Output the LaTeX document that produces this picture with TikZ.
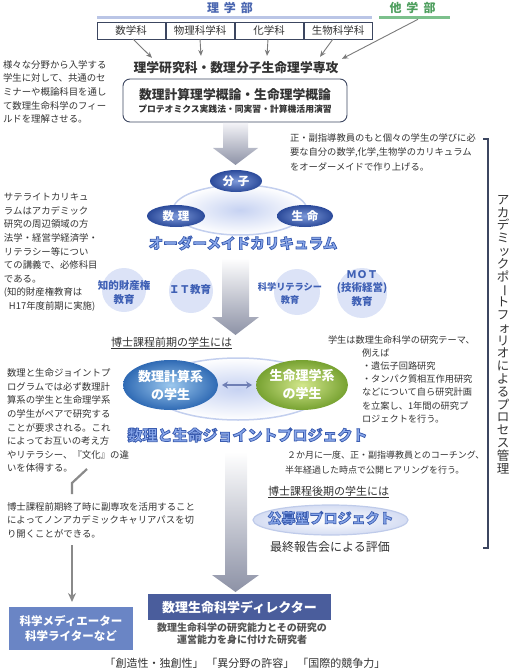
\documentclass[tikz,border=0pt]{standalone}
\usepackage{fontspec}
\setmainfont{Noto Sans CJK JP}
\newfontfamily\fancyfont{Noto Sans CJK JP}[BoldFeatures={FakeBold=5}]
\usetikzlibrary{arrows.meta,shapes.geometric}
\definecolor{txt}{HTML}{333333}
\definecolor{navy}{HTML}{3C4660}
\definecolor{rigaku}{HTML}{4A66B0}
\definecolor{tagaku}{HTML}{4F9F5F}
\definecolor{barblue}{HTML}{BAC5E6}
\definecolor{bargreen}{HTML}{7CC08C}
\definecolor{arrgray}{HTML}{7A7A7A}
\definecolor{pilldark}{HTML}{2B4A9A}
\definecolor{pilllight}{HTML}{7D99D9}
\definecolor{ringc}{HTML}{C3CFEE}
\definecolor{ringin}{HTML}{C6D2F2}
\definecolor{circfill}{HTML}{DCE3F7}
\definecolor{circtxt}{HTML}{3F60B5}
\definecolor{flight}{HTML}{8AA8EA}
\definecolor{stuA}{HTML}{2F6AB4}
\definecolor{stuAl}{HTML}{9CC8EE}
\definecolor{stuB}{HTML}{77A231}
\definecolor{stuBl}{HTML}{D3E78C}
\definecolor{dirc}{HTML}{4A5D9C}
\definecolor{medc}{HTML}{6A85C5}
\definecolor{bigA}{HTML}{F3F3F7}
\definecolor{bigB}{HTML}{8D92A6}
\definecolor{dbl}{HTML}{6F7FB5}
\definecolor{koubofill}{HTML}{D5DDF3}
\definecolor{kouboline}{HTML}{BFCBEA}
\definecolor{subtxt}{HTML}{555555}
\definecolor{linkgray}{HTML}{8A8A8A}

% one node per decorated title: light fill, darker outline stroke
\newcommand\fancytxt[5]{%
  \node[text=flight,font=\fontsize{#4}{#4}\selectfont\fancyfont\bfseries] (#1) at (#2,#3) {\special{pdf:literal direct 0.227 0.361 0.690 RG}#5};}
% small kana in vertical setting: shifted right
\newcommand\vsmall[1]{\hspace*{2.5pt}#1\hspace*{-2.5pt}}

\begin{document}
\begin{tikzpicture}[x=1pt,y=-1pt]
\tikzset{
 every node/.style={inner sep=0pt, outer sep=0pt, text=txt},
 para/.style={anchor=north west, align=left, font=\fontsize{9.4}{13.6}\selectfont},
 dept/.style={draw=navy, line width=0.9pt, fill=white, minimum width=68pt, minimum height=17pt, font=\fontsize{10.5}{12}\selectfont},
 garr/.style={draw=arrgray, line width=0.9pt, -{Stealth[length=6pt,width=5pt]}},
 pill/.style={ellipse, inner color=pilllight, outer color=pilldark, text=white, font=\fontsize{11.5}{12}\selectfont\bfseries},
 ring/.style={ellipse, draw=ringc, line width=1.5pt, inner color=ringin, outer color=white},
 topic/.style={circle, fill=circfill, minimum size=44pt},
 topictxt/.style={align=center, text=circtxt, font=\fontsize{10.5}{13.2}\selectfont\bfseries},
 bigarrow/.style={top color=bigA, bottom color=bigB},
}
\useasboundingbox (0,0) rectangle (514,671);

% header
\node[text=rigaku, font=\fontsize{12}{12}\selectfont\bfseries] (rigakubu) at (230,8) {理\hspace{5pt}学\hspace{5pt}部};
\node[fill=barblue, minimum width=275pt, minimum height=3.6pt] (rbar) at (234.5,17.5) {};
\node[text=tagaku, font=\fontsize{12}{12}\selectfont\bfseries] (tagakubu) at (412.5,8) {他\hspace{5pt}学\hspace{5pt}部};
\node[fill=bargreen, minimum width=71pt, minimum height=3.6pt] (gbar) at (414.5,17.5) {};

\node[dept] (d1) at (131,30.5) {数学科};
\node[dept] (d2) at (200,30.5) {物理科学科};
\node[dept] (d3) at (269,30.5) {化学科};
\node[dept] (d4) at (338,30.5) {生物科学科};

\node[font=\fontsize{12.8}{14}\selectfont\bfseries] (ttl) at (236,68) {理学研究科・数理分子生命理学専攻};

\draw[garr] ([xshift=2pt]d1.south) -- ([xshift=-84pt,yshift=4pt]ttl.north);
\draw[garr] (d2.south) -- ([xshift=-35pt,yshift=6pt]ttl.north);
\draw[garr] ([xshift=-1pt]d3.south) -- ([xshift=31pt,yshift=6pt]ttl.north);
\draw[garr] ([xshift=-5pt]d4.south) -- ([xshift=84pt,yshift=5pt]ttl.north);
\draw[garr] ([xshift=3.5pt]gbar.south) -- ([xshift=106pt,yshift=3pt]ttl.north);

\node[draw=navy, line width=0.9pt, rounded corners=7pt, minimum width=224pt, minimum height=43pt] (cbox) at (235,100.5) {};
\node[font=\fontsize{12.8}{14}\selectfont\bfseries] (c1) at (235,95) {数理計算理学概論・生命理学概論};
\node[font=\fontsize{8.8}{10}\selectfont\bfseries] (c2) at (235,109.5) {プロテオミクス実践法・同実習・計算機活用演習};

\node[para] (p1) at (3,60.3) {様々な分野から入学する\\学生に対して、共通のセ\\ミナーや概論科目を通し\\て数理生命科学のフィー\\ルドを理解させる。};

% arrow 1
\shade[bigarrow] (223,123) -- (248,123) -- (248,148) -- (258,148) -- (235.5,165) -- (213,148) -- (223,148) -- cycle;

\node[para, font=\fontsize{9.3}{14.5}\selectfont] (p2) at (290,133.4) {正・副指導教員のもと個々の学生の学びに必\\要な自分の数学,化学,生物学のカリキュラム\\をオーダーメイドで作り上げる。};

% bracket and vertical label
\draw[navy, line width=1.1pt] (483,139) -- (488,139) -- (488,548) -- (483,548);
\node[align=center, font=\fontsize{12.5}{12.8}\selectfont] (vt) at (503,334.5) {ア\\カ\\デ\\ミ\\\vsmall{ッ}\\ク\\ポ\\\smash{\rotatebox[origin=c]{-90}{ー}}\\ト\\フ\\\vsmall{ォ}\\リ\\オ\\に\\よ\\る\\プ\\ロ\\セ\\ス\\管\\理};

% curriculum ring
\node[ring, minimum width=134pt, minimum height=50pt] (ring1) at (240,210) {};
\node[pill, minimum width=52pt, minimum height=22pt] (bunshi) at (236,181) {分\hspace{4pt}子};
\node[pill, minimum width=58pt, minimum height=22pt] (suuripill) at (176,216) {数\hspace{4pt}理};
\node[pill, minimum width=56pt, minimum height=22pt] (seimeipill) at (305,216) {生\hspace{4pt}命};
\fancytxt{order}{243}{243}{14.6}{オーダーメイドカリキュラム}

\node[para] (p3) at (4,193.3) {サテライトカリキュ\\ラムはアカデミック\\研究の周辺領域の方\\法学・経営学経済学・\\リテラシー等につい\\ての講義で、必修科目\\である。\\(知的財産権教育は\\\hspace*{5pt}H17年度前期に実施)};

\node[topic] (tc1) at (124,290) {};
\node[topictxt] (tt1) at (124,292.5) {知的財産権\\教育};
\node[topic] (tc2) at (191,291) {};
\node[topictxt] (tt2) at (190,290) {ＩＴ教育};
\node[topic, minimum size=46pt] (tc3) at (297,292) {};
\node[topictxt, font=\fontsize{9.2}{13}\selectfont\bfseries] (tt3) at (290,293) {科学リテラシー\\教育};
\node[topic, minimum size=50pt] (tc4) at (362,293) {};
\node[topictxt] (tt4) at (362,288.5) {ＭＯＴ\\(技術経営)\\教育};

% arrow 2
\shade[top color=white, bottom color=bigB] (222,258) -- (249,258) -- (249,317) -- (259,317) -- (235.5,335) -- (212,317) -- (222,317) -- cycle;

\node[font=\fontsize{11}{12}\selectfont] (zenki) at (171.5,343) {\underline{博士課程前期の学生には}};

\node[para, font=\fontsize{9.2}{13.2}\selectfont] (p4) at (328,335.4) {学生は数理生命科学の研究テーマ、\\\hspace*{34pt}例えば\\\hspace*{34pt}・遺伝子回路研究\\\hspace*{34pt}・タンパク質相互作用研究\\\hspace*{34pt}などについて自ら研究計画\\\hspace*{34pt}を立案し、1年間の研究プ\\\hspace*{34pt}ロジェクトを行う。};

% joint ring
\node[ring, minimum width=176pt, minimum height=62pt] (ring2) at (238,389) {};
\node[ellipse, inner color=stuAl, outer color=stuA, minimum width=95pt, minimum height=50pt, text=white, align=center, font=\fontsize{13}{18}\selectfont\bfseries] (suuri) at (170.5,385) {数理計算系\\の学生};
\node[ellipse, inner color=stuBl, outer color=stuB, minimum width=90pt, minimum height=50pt, text=white, align=center, font=\fontsize{13}{18}\selectfont\bfseries] (seimei) at (302,385) {生命理学系\\の学生};
\draw[dbl, line width=1.6pt, {Stealth[length=6pt,width=7pt]}-{Stealth[length=6pt,width=7pt]}] ([xshift=4pt]suuri.east) -- ([xshift=-4pt]seimei.west);
\fancytxt{joint}{247.5}{435}{15}{数理と生命ジョイントプロジェクト}

\node[para] (p5) at (7,368.8) {数理と生命ジョイントプ\\ログラムでは必ず数理計\\算系の学生と生命理学系\\の学生がペアで研究する\\ことが要求される。これ\\によってお互いの考え方\\やリテラシー、『文化』の違\\いを体得する。};

\coordinate (b1) at (87,469);
\coordinate (b2) at (72,483);
\coordinate (b3) at (72,494);
\draw[linkgray, line width=2.2pt] (b1) -- (b2) -- (b3);

\node[para] (p6) at (7,502.3) {博士課程前期終了時に副専攻を活用すること\\によってノンアカデミックキャリアパスを切\\り開くことができる。};

\node[para, font=\fontsize{9}{15}\selectfont] (p7) at (285,450.5) {\hspace*{2pt}２か月に一度、正・副指導教員とのコーチング、\\半年経過した時点で公開ヒアリングを行う。};

% arrow 3
\shade[top color=white, bottom color=bigB] (225,452) -- (247,452) -- (247,575) -- (259,575) -- (235.5,592) -- (212,575) -- (225,575) -- cycle;

\node[font=\fontsize{11}{12}\selectfont] (kouki) at (328.5,492) {\underline{博士課程後期の学生には}};
\node[ellipse, inner color=white, outer color=koubofill, draw=kouboline, line width=1.2pt, minimum width=155pt, minimum height=30pt] (koubo) at (330.5,520) {};
\fancytxt{koubotxt}{330.5}{518}{14}{公募型プロジェクト}
\node[font=\fontsize{12}{13}\selectfont] (hyouka) at (330,547) {最終報告会による評価};

% outcomes
\node[fill=dirc, minimum width=183pt, minimum height=26pt, text=white, font=\fontsize{13}{14}\selectfont\bfseries] (dir) at (239.5,607) {数理生命科学ディレクター};
\node[align=center, text=subtxt, font=\fontsize{10}{12}\selectfont\bfseries] (dirsub) at (242,634) {数理生命科学の研究能力とその研究の\\運営能力を身に付けた研究者};
\node[fill=medc, minimum width=124pt, minimum height=43pt, text=white, align=center, font=\fontsize{11.5}{14.5}\selectfont\bfseries] (med) at (71,628.5) {科学メディエーター\\科学ライターなど};
\coordinate (a1) at (72,545);
\draw[linkgray, line width=1.8pt, -{Stealth[length=9pt,width=8pt]}] (a1) -- ([xshift=1pt,yshift=5pt]med.north);

\node[font=\fontsize{11}{12}\selectfont] (motto) at (245,663) {「創造性・独創性」\hspace{3pt}「異分野の許容」\hspace{3pt}「国際的競争力」};
\end{tikzpicture}
\end{document}
